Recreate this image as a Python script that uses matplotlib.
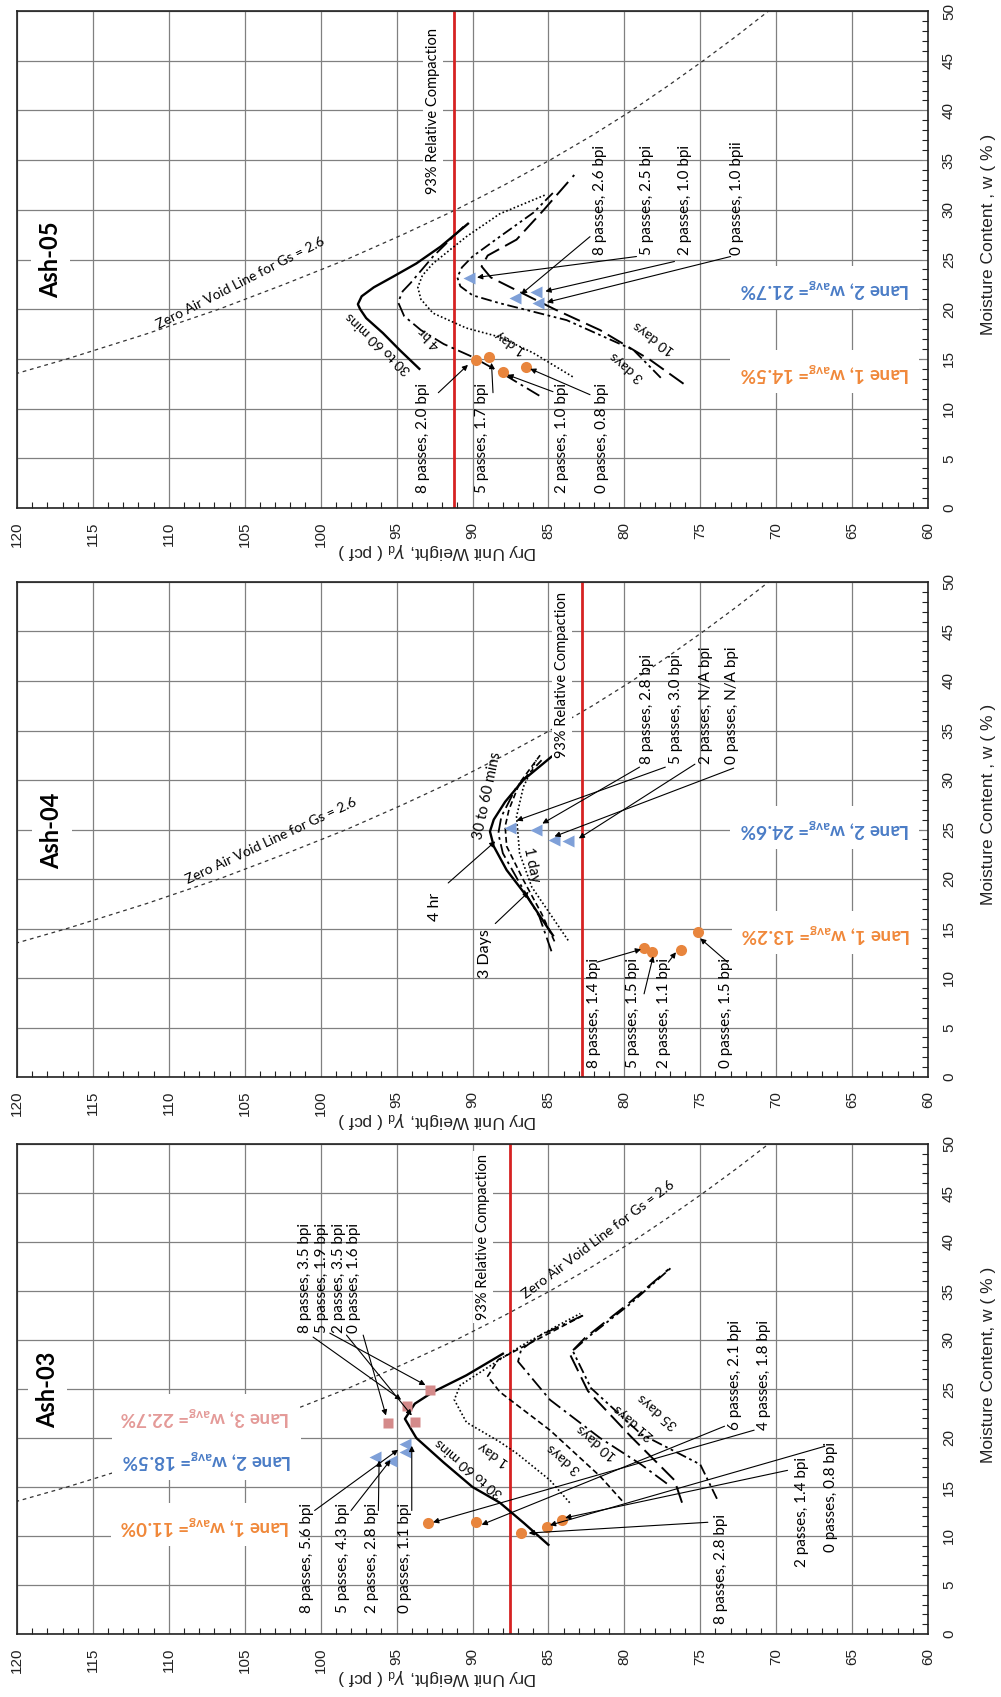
import matplotlib
matplotlib.use('Agg')
import matplotlib.pyplot as plt
from matplotlib.ticker import MultipleLocator

plt.rcParams['font.family'] = ['Liberation Sans', 'DejaVu Sans']
ANN = ['Lato', 'DejaVu Sans']

# ---------------- data (dry unit weight g [pcf], moisture w [%]) ----------------
zav_w = [13.5, 15, 17.5, 20, 22.5, 25, 27.5, 30, 32.5, 35, 37.5, 40, 42.5, 45, 47.5, 50]
zav_g = [120.1, 116.7, 111.5, 106.7, 102.4, 98.3, 94.6, 91.1, 87.9, 84.9, 82.1, 79.5, 77.1, 74.8, 72.6, 70.5]

rc93_a05 = 91.2
rc93_a04 = 82.8
rc93_a03 = 87.5

# Ash-05 curves
a05_30min_w = [14.0, 15.9, 17.6, 19.1, 20.0, 20.5, 21.3, 22.2, 23.3, 24.6, 26.3, 28.6]
a05_30min_g = [93.5, 94.8, 95.9, 97.0, 97.4, 97.55, 97.3, 96.5, 95.2, 93.7, 92.1, 90.3]
a05_4hr_w = [11.3, 13.5, 15.2, 16.5, 17.9, 19.3, 20.7, 21.8, 22.6, 25.3, 28.3]
a05_4hr_g = [85.6, 88.0, 90.0, 91.9, 93.4, 94.5, 94.9, 94.6, 94.1, 92.6, 90.6]
a05_1day_w = [13.2, 15.6, 17.2, 18.1, 19.6, 21.0, 22.2, 23.4, 24.6, 27.3, 29.6, 31.5]
a05_1day_g = [83.4, 86.0, 88.2, 90.4, 92.6, 93.4, 93.6, 93.3, 92.6, 90.4, 88.2, 85.2]
a05_3day_w = [13.1, 15.9, 18.9, 20.6, 21.4, 22.3, 23.2, 24.2, 25.3, 27.3, 29.7, 31.7]
a05_3day_g = [77.6, 79.4, 83.8, 88.2, 90.0, 90.8, 91.0, 90.7, 90.0, 88.2, 86.0, 84.7]
a05_10day_w = [12.5, 14.9, 17.9, 20.0, 21.9, 23.2, 24.3, 25.4, 27.0, 30.0, 33.5]
a05_10day_g = [76.1, 78.3, 81.6, 84.6, 87.1, 88.8, 89.4, 89.0, 87.1, 85.3, 83.3]
a05_lane1_w = [14.9, 15.2, 13.7, 14.2]
a05_lane1_g = [89.8, 88.9, 88.0, 86.5]
a05_lane2_w = [23.1, 21.1, 21.7, 20.6]
a05_lane2_g = [90.2, 87.2, 85.8, 85.7]
a05_lane1_lbl = ['8 passes, 2.0 bpi', '5 passes, 1.7 bpi', '2 passes, 1.0 bpi', '0 passes, 0.8 bpi']
a05_lane2_lbl = ['8 passes, 2.6 bpi', '5 passes, 2.5 bpi', '2 passes, 1.0 bpi', '0 passes, 1.0 bpii']

# Ash-04 curves
a04_30min_w = [14.3, 15.2, 18.2, 20.9, 23.3, 24.8, 26.0, 27.8, 30.0, 32.35]
a04_30min_g = [84.7, 85.1, 86.4, 87.75, 88.6, 88.85, 88.6, 87.85, 86.65, 84.8]
a04_4hr_w = [12.7, 16.2, 19.6, 22.6, 24.6, 26.3, 29.3, 32.0]
a04_4hr_g = [84.8, 85.6, 86.9, 88.0, 88.3, 88.1, 87.1, 85.45]
a04_3day_w = [13.7, 16.5, 19.9, 23.3, 25.3, 27.0, 29.7, 32.5]
a04_3day_g = [84.6, 85.45, 86.65, 87.75, 87.85, 87.6, 86.9, 85.55]
a04_1day_w = [13.8, 16.5, 19.2, 22.6, 26.3, 29.3, 32.0]
a04_1day_g = [83.7, 84.9, 86.1, 86.9, 87.1, 86.65, 85.8]
a04_lane1_w = [13.0, 12.6, 12.8, 14.6]
a04_lane1_g = [78.7, 78.2, 76.3, 75.15]
a04_lane2_w = [25.2, 25.0, 23.9, 23.8]
a04_lane2_g = [87.5, 85.8, 84.6, 83.7]
a04_lane1_lbl = ['8 passes, 1.4 bpi', '5 passes, 1.5 bpi', '2 passes, 1.1 bpi', '0 passes, 1.5 bpi']
a04_lane2_lbl = ['8 passes, 2.8 bpi', '5 passes, 3.0 bpi', '2 passes, N/A bpi', '0 passes, N/A bpi']

# Ash-03 curves
a03_30min_w = [9.1, 11.3, 13.4, 15.0, 17.5, 20.0, 21.95, 23.5, 24.7, 26.4, 28.6]
a03_30min_g = [85.0, 86.6, 88.2, 90.0, 91.9, 93.7, 94.45, 93.8, 92.6, 90.4, 88.0]
a03_1day_w = [13.4, 15.7, 18.45, 19.6, 21.6, 23.9, 25.4, 27.2, 29.4, 31.3, 32.7]
a03_1day_g = [83.6, 84.9, 87.1, 88.2, 90.4, 91.2, 90.8, 89.0, 86.8, 84.6, 82.9]
a03_3day_w = [13.6, 16.1, 20.8, 24.7, 26.3, 28.0, 30.0, 32.6]
a03_3day_g = [80.15, 81.6, 84.9, 88.2, 89.0, 88.3, 85.8, 82.6]
a03_10day_w = [15.35, 17.3, 20.0, 23.9, 27.8, 29.0, 30.5, 32.6]
a03_10day_g = [77.2, 78.9, 81.6, 84.9, 87.0, 86.8, 85.5, 82.6]
a03_21day_w = [13.4, 15.7, 20.2, 24.8, 28.6, 30.2, 33.5, 37.2]
a03_21day_g = [76.2, 76.7, 79.6, 82.4, 83.6, 82.6, 79.9, 77.1]
a03_35day_w = [13.8, 17.3, 20.4, 25.1, 28.9, 30.4, 33.7, 37.4]
a03_35day_g = [73.9, 75.0, 78.9, 82.2, 83.4, 82.3, 79.6, 76.9]
a03_lane1_w = [11.3, 11.4, 10.3, 10.9, 11.65]
a03_lane1_g = [92.9, 89.8, 86.8, 85.1, 84.1]
a03_lane2_w = [18.1, 17.7, 19.4, 18.6]
a03_lane2_g = [96.4, 95.4, 94.45, 94.45]
a03_lane3_w = [21.5, 23.3, 21.6, 24.9]
a03_lane3_g = [95.55, 94.3, 93.8, 92.8]
a03_lane1_lbl = ['8 passes, 2.8 bpi', '6 passes, 2.1 bpi', '4 passes, 1.8 bpi', '2 passes, 1.4 bpi', '0 passes, 0.8 bpi']
a03_lane2_lbl = ['8 passes, 5.6 bpi', '5 passes, 4.3 bpi', '2 passes, 2.8 bpi', '0 passes, 1.1 bpi']
a03_lane3_lbl = ['8 passes, 3.5 bpi', '5 passes, 1.9 bpi', '2 passes, 3.5 bpi', '0 passes, 1.6 bpi']

# ---------------- styles ----------------
ORANGE = '#E8853D'
ORANGE_T = '#F0883A'
BLUE_M = '#7FA0D8'
BLUE_T = '#4A7CC6'
PINK_M = '#D48A8A'
PINK_T = '#E49A98'
RED = '#D62222'

SOLID = dict(color='black', lw=1.7, ls='-')
DASHDOT = dict(color='black', lw=1.3, ls=(0, (8, 2.5, 1.5, 2.5)))
DOTTED = dict(color='black', lw=1.2, ls=(0, (1, 1.4)))
DASHDOTDOT = dict(color='black', lw=1.3, ls=(0, (6, 2, 1.5, 2, 1.5, 2)))
LONGDASH = dict(color='black', lw=1.4, ls=(0, (9, 3.5)))
SHORTDASH = dict(color='black', lw=1.2, ls=(0, (3.5, 2)))

fig = plt.figure(figsize=(10.01, 16.97), dpi=100)
FW, FH = 1001, 1697
LEFT, RIGHT = 17, 928
boxes = [(11, 508), (582, 1077), (1144, 1634)]


def make_ax(top, bot):
    ax = fig.add_axes([LEFT / FW, 1 - bot / FH, (RIGHT - LEFT) / FW, (bot - top) / FH])
    ax.set_xlim(120, 60)
    ax.set_ylim(0, 50)
    ax.xaxis.set_major_locator(MultipleLocator(5))
    ax.xaxis.set_minor_locator(MultipleLocator(1))
    ax.yaxis.set_major_locator(MultipleLocator(5))
    ax.yaxis.set_minor_locator(MultipleLocator(1))
    ax.yaxis.tick_right()
    ax.set_axisbelow(True)
    ax.grid(True, which='major', color='#808080', lw=0.9)
    ax.tick_params(which='both', direction='in', top=False, left=False, right=True, bottom=True,
                   colors='#222222', labelsize=11)
    ax.tick_params(which='major', length=0, pad=10)
    ax.tick_params(which='minor', length=4, width=0.8)
    ax.tick_params(axis='x', labelrotation=90)
    ax.tick_params(axis='y', labelrotation=90)
    for lab in ax.get_yticklabels():
        lab.set_va('center')
    for s in ax.spines.values():
        s.set_color('#222222')
        s.set_linewidth(1.2)
    return ax


def common(ax, rc, top, bot, mlabel):
    H = bot - top
    ax.plot(zav_g, zav_w, color='#333333', lw=0.9, ls=(0, (3, 3)), zorder=2)
    ax.axvline(rc, color=RED, lw=2.0, zorder=2.5)
    ax.text((437 - LEFT) / (RIGHT - LEFT), -43 / H, r'Dry Unit Weight, $\gamma_{\mathregular{d}}$ ( pcf )',
            transform=ax.transAxes, rotation=180, ha='center', va='center', fontsize=12.5, color='#222222')
    ax.text((988 - LEFT) / (RIGHT - LEFT), 0.55, mlabel, transform=ax.transAxes, rotation=90,
            ha='center', va='center', fontsize=12.5, color='#222222')


def T(ax, g, w, s, rot=90, size=11, ha='center', va='bottom', **kw):
    ax.text(g, w, s, rotation=rot, fontsize=size, ha=ha, va=va, family=ANN, zorder=7, **kw)


def RT(ax, g, w, s, rot, size=10):
    ax.text(g, w, s, rotation=rot, fontsize=size, ha='center', va='center', family=ANN,
            rotation_mode='anchor', zorder=7)


def ARR(ax, start, end):
    ax.annotate('', xy=end, xytext=start,
                arrowprops=dict(arrowstyle='-|>', color='black', lw=0.8, mutation_scale=8,
                                shrinkA=0, shrinkB=0), zorder=6)


def title(ax, g, w, s):
    ax.text(g, w, s, rotation=90, fontsize=17, fontweight='bold', family=ANN, ha='center', va='center',
            bbox=dict(facecolor='white', edgecolor='none', pad=6), zorder=5)


def lane(ax, g, w, s, color):
    ax.text(g, w, s, rotation=180, fontsize=13.5, fontweight='bold', family=ANN, color=color,
            ha='center', va='center', bbox=dict(facecolor='white', edgecolor='none', pad=7), zorder=5)


def rc_label(ax, g, w):
    ax.text(g, w, '93% Relative Compaction', rotation=90, fontsize=10.5, family=ANN, ha='center',
            va='center', bbox=dict(facecolor='white', edgecolor='none', pad=2), zorder=5)


# ================= Ash-05 =================
ax = make_ax(*boxes[0])
common(ax, rc93_a05, *boxes[0], 'Moisture Content , w ( % )')
ax.plot(a05_30min_g, a05_30min_w, zorder=3, **SOLID)
ax.plot(a05_4hr_g, a05_4hr_w, zorder=3, **DASHDOT)
ax.plot(a05_1day_g, a05_1day_w, zorder=3, **DOTTED)
ax.plot(a05_3day_g, a05_3day_w, zorder=3, **DASHDOTDOT)
ax.plot(a05_10day_g, a05_10day_w, zorder=3, **LONGDASH)
ax.plot(a05_lane1_g, a05_lane1_w, 'o', color=ORANGE, ms=8, mec='none', zorder=5)
ax.plot(a05_lane2_g, a05_lane2_w, '<', color=BLUE_M, ms=9, mec='none', zorder=5)
title(ax, 117.8, 25.0, 'Ash-05')
RT(ax, 105.3, 22.6, 'Zero Air Void Line for Gs = 2.6', 27, size=10)
rc_label(ax, 92.6, 39.9)
lane(ax, 66.8, 22.2, r'Lane 2, w$_{\mathregular{avg}}$= 21.7%', BLUE_T)
lane(ax, 66.8, 13.7, r'Lane 1, w$_{\mathregular{avg}}$= 14.5%', ORANGE_T)
RT(ax, 96.2, 16.6, '30 to 60 mins', 137)
RT(ax, 92.8, 17.1, '4 hr', 135)
RT(ax, 87.5, 16.6, '1 day', 146)
RT(ax, 79.85, 14.2, '3 days', 140)
RT(ax, 78.0, 17.1, '10 days', 144)
for g, s in zip([93.26, 89.4, 84.13, 81.5], a05_lane1_lbl):
    T(ax, g, 1.5, s)
ARR(ax, (92.25, 11.6), (90.3, 14.4))
ARR(ax, (88.65, 11.6), (88.75, 14.6))
ARR(ax, (84.7, 11.7), (87.7, 13.4))
ARR(ax, (82.26, 11.4), (86.2, 14.0))
for g, s in zip([81.6, 78.5, 76.0, 72.6], a05_lane2_lbl):
    T(ax, g, 25.5, s)
ARR(ax, (82.26, 27.3), (86.8, 21.5))
ARR(ax, (79.2, 25.3), (89.7, 23.2))
ARR(ax, (76.7, 24.8), (85.2, 21.8))
ARR(ax, (73.0, 25.3), (85.1, 20.7))

# ================= Ash-04 =================
ax = make_ax(*boxes[1])
common(ax, rc93_a04, *boxes[1], 'Moisture Content , w ( % )')
ax.plot(a04_30min_g, a04_30min_w, zorder=3, **SOLID)
ax.plot(a04_4hr_g, a04_4hr_w, zorder=3, **DASHDOT)
ax.plot(a04_3day_g, a04_3day_w, zorder=3, **SHORTDASH)
ax.plot(a04_1day_g, a04_1day_w, zorder=3, **DOTTED)
ax.plot(a04_lane1_g, a04_lane1_w, 'o', color=ORANGE, ms=8, mec='none', zorder=5)
ax.plot(a04_lane2_g, a04_lane2_w, '<', color=BLUE_M, ms=9, mec='none', zorder=5)
title(ax, 117.7, 24.9, 'Ash-04')
RT(ax, 103.3, 23.9, 'Zero Air Void Line for Gs = 2.6', 25, size=10)
rc_label(ax, 84.1, 40.6)
lane(ax, 66.8, 25.2, r'Lane 2, w$_{\mathregular{avg}}$= 24.6%', BLUE_T)
lane(ax, 66.7, 14.6, r'Lane 1, w$_{\mathregular{avg}}$= 13.2%', ORANGE_T)
RT(ax, 89.0, 28.4, '30 to 60 mins', 78, size=10.5)
RT(ax, 86.1, 21.4, '1 day', -78, size=10.5)
T(ax, 92.5, 17.2, '4 hr', size=11.5, va='center')
T(ax, 89.2, 12.5, '3 Days', size=11.5, va='center')
ARR(ax, (91.6, 19.6), (88.5, 23.8))
ARR(ax, (88.5, 15.5), (86.3, 18.7))
for g, s in zip([82.0, 79.4, 77.4, 73.3], a04_lane1_lbl):
    T(ax, g, 0.9, s)
ARR(ax, (81.8, 11.6), (78.9, 12.9))
ARR(ax, (78.7, 8.4), (78.1, 12.2))
ARR(ax, (77.1, 11.6), (76.6, 12.6))
ARR(ax, (73.2, 11.6), (75.0, 14.0))
for g, s in zip([78.5, 76.6, 74.6, 72.9], a04_lane2_lbl):
    T(ax, g, 31.6, s)
ARR(ax, (79.0, 31.3), (85.4, 25.6))
ARR(ax, (77.3, 31.3), (87.1, 25.9))
ARR(ax, (75.35, 31.6), (83.0, 24.1))
ARR(ax, (72.8, 31.2), (84.6, 24.3))

# ================= Ash-03 =================
ax = make_ax(*boxes[2])
common(ax, rc93_a03, *boxes[2], 'Moisture Content, w ( % )')
ax.plot(a03_30min_g, a03_30min_w, zorder=3, **SOLID)
ax.plot(a03_1day_g, a03_1day_w, zorder=3, **DOTTED)
ax.plot(a03_3day_g, a03_3day_w, zorder=3, **SHORTDASH)
ax.plot(a03_10day_g, a03_10day_w, zorder=3, **DASHDOT)
ax.plot(a03_21day_g, a03_21day_w, zorder=3, **LONGDASH)
ax.plot(a03_35day_g, a03_35day_w, zorder=3, **DASHDOTDOT)
ax.plot(a03_lane1_g, a03_lane1_w, 'o', color=ORANGE, ms=8, mec='none', zorder=5)
ax.plot(a03_lane2_g, a03_lane2_w, '<', color=BLUE_M, ms=9, mec='none', zorder=5)
ax.plot(a03_lane3_g, a03_lane3_w, 's', color=PINK_M, ms=7.5, mec='none', zorder=5)
title(ax, 118.0, 24.9, 'Ash-03')
RT(ax, 81.7, 40.3, 'Zero Air Void Line for Gs = 2.6', 37, size=10)
rc_label(ax, 89.3, 40.5)
lane(ax, 107.6, 22.3, r'Lane 3, w$_{\mathregular{avg}}$= 22.7%', PINK_T)
lane(ax, 107.5, 17.9, r'Lane 2, w$_{\mathregular{avg}}$= 18.5%', BLUE_T)
lane(ax, 107.6, 11.15, r'Lane 1, w$_{\mathregular{avg}}$= 11.0%', ORANGE_T)
RT(ax, 90.2, 16.9, '30 to 60 mins', 140)
RT(ax, 88.6, 18.3, '1 day', 145)
RT(ax, 84.0, 17.9, '3 days', 140)
RT(ax, 81.8, 19.6, '10 days', 140)
RT(ax, 79.4, 21.6, '21 days', 140)
RT(ax, 77.8, 22.7, '35 days', 140)
for g, s in zip([101.0, 99.9, 98.8, 97.8], a03_lane3_lbl):
    T(ax, g, 30.7, s)
ARR(ax, (100.5, 30.3), (94.7, 23.9))
ARR(ax, (99.4, 30.7), (93.1, 25.4))
ARR(ax, (98.3, 30.5), (94.0, 22.3))
ARR(ax, (97.2, 30.5), (95.7, 22.3))
for g, s in zip([100.9, 98.5, 96.6, 94.45], a03_lane2_lbl):
    T(ax, g, 2.1, s)
ARR(ax, (100.4, 12.6), (94.9, 18.8))
ARR(ax, (98.0, 12.6), (95.4, 17.75))
ARR(ax, (96.2, 12.6), (96.15, 17.7))
ARR(ax, (94.0, 12.6), (94.0, 19.2))
for (g, w), s in zip([(73.65, 1.0), (72.7, 20.8), (70.8, 20.8), (68.3, 6.8), (66.4, 8.35)], a03_lane1_lbl):
    T(ax, g, w, s)
ARR(ax, (74.5, 11.4), (86.3, 10.3))
ARR(ax, (73.4, 21.2), (89.4, 11.15))
ARR(ax, (71.45, 20.8), (92.6, 11.4))
ARR(ax, (69.25, 16.7), (83.9, 11.85))
ARR(ax, (66.8, 19.15), (84.9, 11.1))

fig.savefig('out.png', dpi=100)
